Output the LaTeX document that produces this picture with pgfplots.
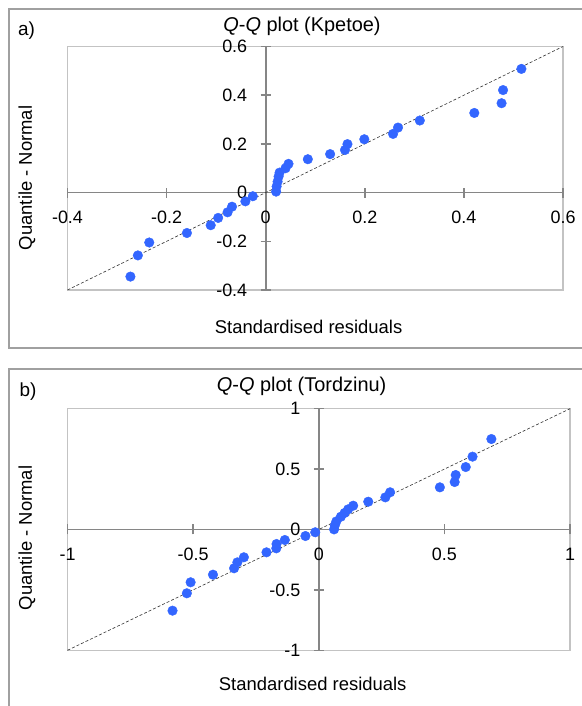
\documentclass[border=0pt]{standalone}
\usepackage{fontspec}
\setmainfont{Liberation Sans}
\usepackage{pgfplots}
\pgfplotsset{compat=1.18}
\definecolor{pt}{RGB}{51,102,255}
\definecolor{axln}{RGB}{134,134,134}
\definecolor{boxln}{RGB}{195,195,195}
\definecolor{frm}{RGB}{160,160,160}
\pgfplotsset{
  qq/.style={
    scale only axis,
    axis lines=middle,
    axis line style={-, draw=axln, line width=1.6bp},
    hide obscured x ticks=false,
    hide obscured y ticks=false,
    tick align=center,
    major tick length=10bp,
    tick style={draw=axln, line width=1.4bp},
    ticklabel style={font=\fontsize{18}{20}\selectfont},
    /pgf/number format/assume math mode=true,
    xticklabel style={yshift=-10bp},
    yticklabel style={xshift=-10bp},
    clip=false,
    axis background/.style={draw=boxln, line width=1.5bp},
  }
}
\begin{document}
\begin{tikzpicture}[x=1bp,y=1bp]
\useasboundingbox (0,0) rectangle (582,706);
\fill[white] (0,0) rectangle (582,706);
\draw[frm, line width=1.5bp] (9,358) rectangle (590,697);
\draw[frm, line width=1.5bp] (9,-10) rectangle (590,337);

\begin{axis}[qq, at={(67.5bp,416bp)}, anchor=south west,
  width=495.5bp, height=243.5bp,
  xmin=-0.4, xmax=0.6, ymin=-0.4, ymax=0.6,
  xtick={-0.4,-0.2,0,0.2,0.4,0.6}, ytick={-0.4,-0.2,0,0.2,0.4,0.6}]
\addplot[black!80, line width=0.6bp, dash pattern=on 3bp off 2bp] coordinates {(-0.4,-0.4) (0.6,0.6)};
\addplot[only marks, mark=*, mark size=4.8bp, mark options={draw=pt, fill=pt}] coordinates {
(-0.273,-0.345) (-0.258,-0.258) (-0.235,-0.205) (-0.159,-0.166) (-0.111,-0.134)
(-0.096,-0.104) (-0.077,-0.081) (-0.068,-0.058) (-0.041,-0.036) (-0.026,-0.015)
(0.021,0.004) (0.022,0.025) (0.024,0.045) (0.026,0.066) (0.028,0.082)
(0.040,0.100) (0.046,0.118) (0.085,0.137) (0.130,0.158) (0.160,0.175)
(0.165,0.199) (0.199,0.219) (0.257,0.241) (0.267,0.267) (0.311,0.296)
(0.421,0.327) (0.476,0.367) (0.479,0.421) (0.516,0.508)};
\end{axis}

\begin{axis}[qq, at={(67.5bp,55.7bp)}, anchor=south west,
  width=502.5bp, height=241.6bp,
  xmin=-1, xmax=1, ymin=-1, ymax=1,
  xtick={-1,-0.5,0,0.5,1}, ytick={-1,-0.5,0,0.5,1}]
\addplot[black!80, line width=0.6bp, dash pattern=on 3bp off 2bp] coordinates {(-1,-1) (1,1)};
\addplot[only marks, mark=*, mark size=4.8bp, mark options={draw=pt, fill=pt}] coordinates {
(-0.582,-0.672) (-0.525,-0.528) (-0.510,-0.437) (-0.421,-0.374) (-0.337,-0.321)
(-0.324,-0.272) (-0.298,-0.230) (-0.208,-0.189) (-0.169,-0.156) (-0.168,-0.120)
(-0.135,-0.087) (-0.053,-0.054) (-0.014,-0.023) (0.061,0.001) (0.064,0.034)
(0.070,0.067) (0.088,0.106) (0.103,0.137) (0.117,0.167) (0.137,0.197)
(0.197,0.230) (0.265,0.266) (0.284,0.308) (0.482,0.349) (0.541,0.393)
(0.545,0.451) (0.585,0.517) (0.612,0.603) (0.687,0.749)};
\end{axis}

\node[font=\fontsize{19}{21}\selectfont] at (26.5,675) {a)};
\node[font=\fontsize{20}{22}\selectfont] at (302,680) {\textit{Q}-\textit{Q} plot (Kpetoe)};
\node[font=\fontsize{18.5}{20}\selectfont, rotate=90] at (27,528) {Quantile - Normal};
\node[font=\fontsize{18.5}{20}\selectfont] at (308.6,379) {Standardised residuals};

\node[font=\fontsize{19}{21}\selectfont] at (28,314) {b)};
\node[font=\fontsize{20}{22}\selectfont] at (301.6,320) {\textit{Q}-\textit{Q} plot (Tordzinu)};
\node[font=\fontsize{18.5}{20}\selectfont, rotate=90] at (27,168) {Quantile - Normal};
\node[font=\fontsize{18.5}{20}\selectfont] at (312.7,22) {Standardised residuals};
\end{tikzpicture}
\end{document}
